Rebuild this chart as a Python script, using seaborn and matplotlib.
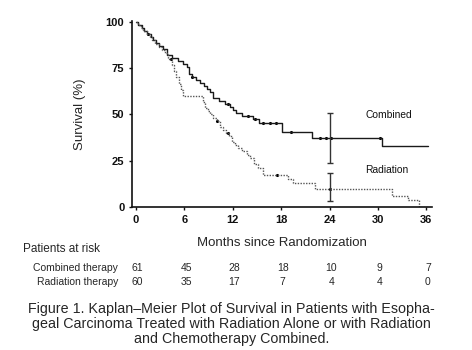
import numpy as np
import pandas as pd
import matplotlib
matplotlib.use("Agg")
import matplotlib.pyplot as plt
import matplotlib.transforms as mtransforms
import seaborn as sns

# ---------------- data ----------------
comb_t = [0, 0.3, 0.7, 1.0, 1.4, 1.8, 2.1, 2.5, 2.9, 3.3, 3.8, 4.5, 5.2, 5.8, 6.3, 6.6,
          6.9, 7.4, 7.9, 8.4, 8.8, 9.2, 9.6, 10.3, 11.0, 11.6, 12.0, 12.4, 13.2, 14.5,
          15.3, 18.1, 21.8, 30.5, 36.2]
comb_s = [100, 98.4, 96.7, 95.1, 93.4, 91.8, 90.2, 88.5, 86.9, 85.2, 82.0, 80.3, 78.7,
          77.0, 75.4, 72.1, 70.5, 68.8, 67.2, 65.6, 63.9, 62.3, 59.0, 57.4, 55.7, 54.1,
          52.5, 50.8, 49.2, 47.5, 45.5, 40.5, 37.5, 33.0, 33.0]

rad_t = [0, 0.2, 0.6, 0.9, 1.3, 1.7, 2.0, 2.4, 2.8, 3.2, 3.6, 4.0, 4.4, 4.7, 5.0, 5.3,
         5.6, 5.8, 8.3, 8.6, 8.9, 9.2, 9.6, 10.0, 10.4, 10.8, 11.2, 11.5, 11.9, 12.3,
         12.7, 13.2, 13.7, 14.1, 14.6, 15.1, 15.7, 18.8, 19.5, 22.2, 31.7, 33.7, 35.1, 36.2]
rad_s = [100, 98.3, 96.7, 95.0, 93.3, 91.7, 90.0, 88.3, 86.7, 85.0, 83.3, 80.0, 76.7,
         73.3, 70.0, 66.7, 63.3, 60.0, 56.7, 53.3, 51.7, 50.0, 48.3, 46.7, 43.3, 41.7,
         40.0, 38.3, 35.0, 33.3, 31.7, 30.0, 28.3, 26.7, 23.3, 21.0, 17.3, 15.0, 13.0,
         9.7, 6.0, 3.8, 0.0, 0.0]

comb_censor = [1.5, 6.9, 11.4, 13.9, 14.7, 15.7, 16.6, 17.3, 19.2, 22.8, 23.6, 24.2, 30.3]
rad_censor = [4.3, 10.0, 11.4, 17.5, 24.0]

ci_month = 24
comb_ci = (37.5, 24.0, 51.0)   # estimate, lower, upper
rad_ci = (9.7, 3.0, 18.4)

months = [0, 6, 12, 18, 24, 30, 36]
yticks = [0, 25, 50, 75, 100]
risk_combined = [61, 45, 28, 18, 10, 9, 7]
risk_radiation = [60, 35, 17, 7, 4, 4, 0]

caption = ("Figure 1. Kaplan\u2013Meier Plot of Survival in Patients with Esopha-\n"
           "geal Carcinoma Treated with Radiation Alone or with Radiation\n"
           "and Chemotherapy Combined.")

# ---------------- plot ----------------
sns.set_style("ticks")
plt.rcParams['font.family'] = ['Liberation Sans', 'DejaVu Sans']

fig = plt.figure(figsize=(4.72, 3.5), dpi=100)
ax = fig.add_axes([132 / 472, 1 - 207 / 350, 300 / 472, 186 / 350])

df_c = pd.DataFrame({"t": comb_t, "s": comb_s})
df_r = pd.DataFrame({"t": rad_t, "s": rad_s})
sns.lineplot(data=df_c, x="t", y="s", ax=ax, estimator=None, sort=False,
             drawstyle="steps-post", color="#1a1a1a", linewidth=1.0)
sns.lineplot(data=df_r, x="t", y="s", ax=ax, estimator=None, sort=False,
             drawstyle="steps-post", color="#555555", linewidth=1.0,
             linestyle=(0, (1, 1)))


def level(ts, ss, t):
    i = np.searchsorted(np.asarray(ts), t, side="right") - 1
    return np.asarray(ss)[i]


cc = pd.DataFrame({"t": comb_censor, "s": [level(comb_t, comb_s, t) for t in comb_censor]})
rc = pd.DataFrame({"t": rad_censor, "s": [level(rad_t, rad_s, t) for t in rad_censor]})
sns.scatterplot(data=cc, x="t", y="s", ax=ax, s=5, color="black", marker="o", linewidth=0)
sns.scatterplot(data=rc, x="t", y="s", ax=ax, s=5, color="black", marker="o", linewidth=0)

for est, lo, hi in (comb_ci, rad_ci):
    ax.errorbar([ci_month], [est], yerr=[[est - lo], [hi - est]], fmt="none",
                ecolor="#333333", elinewidth=1.0, capsize=2.5, capthick=1.0)

ax.text(28.4, 49.5, "Combined", fontsize=7.4, va="center", ha="left", color="#111111")
ax.text(28.4, 20, "Radiation", fontsize=7.4, va="center", ha="left", color="#111111")

ax.set_xlim(-0.5, 36.7)
ax.set_ylim(0, 100.5)
ax.set_xticks(months)
ax.set_yticks(yticks)
ax.set_xticklabels([str(m) for m in months], fontsize=8, fontweight="bold")
ax.set_yticklabels([str(v) for v in yticks], fontsize=8, fontweight="bold")
ax.tick_params(axis="both", length=2.5, width=1.0, pad=3, colors="#111111")
ax.set_xlabel("Months since Randomization", fontsize=9.5, labelpad=9)
ax.set_ylabel("Survival (%)", fontsize=9.5, labelpad=14)
sns.despine(ax=ax)
for sp in ("left", "bottom"):
    ax.spines[sp].set_linewidth(1.2)
    ax.spines[sp].set_color("#111111")

# patients at risk table
trans = mtransforms.blended_transform_factory(ax.transData, fig.transFigure)
fig.text(23 / 472, 1 - 249 / 350, "Patients at risk", fontsize=8.5, va="center", ha="left")
fig.text(118 / 472, 1 - 268 / 350, "Combined therapy", fontsize=7.5, va="center", ha="right")
fig.text(118 / 472, 1 - 282 / 350, "Radiation therapy", fontsize=7.5, va="center", ha="right")
for m, a, b in zip(months, risk_combined, risk_radiation):
    ax.text(m + 0.2, 1 - 268 / 350, str(a), transform=trans, fontsize=7.5,
            ha="center", va="center", clip_on=False)
    ax.text(m + 0.2, 1 - 282 / 350, str(b), transform=trans, fontsize=7.5,
            ha="center", va="center", clip_on=False)

fig.text(0.49, 1 - 324 / 350, caption, fontsize=10.3, ha="center", va="center",
         linespacing=1.12)

fig.savefig("out.png", dpi=100)
